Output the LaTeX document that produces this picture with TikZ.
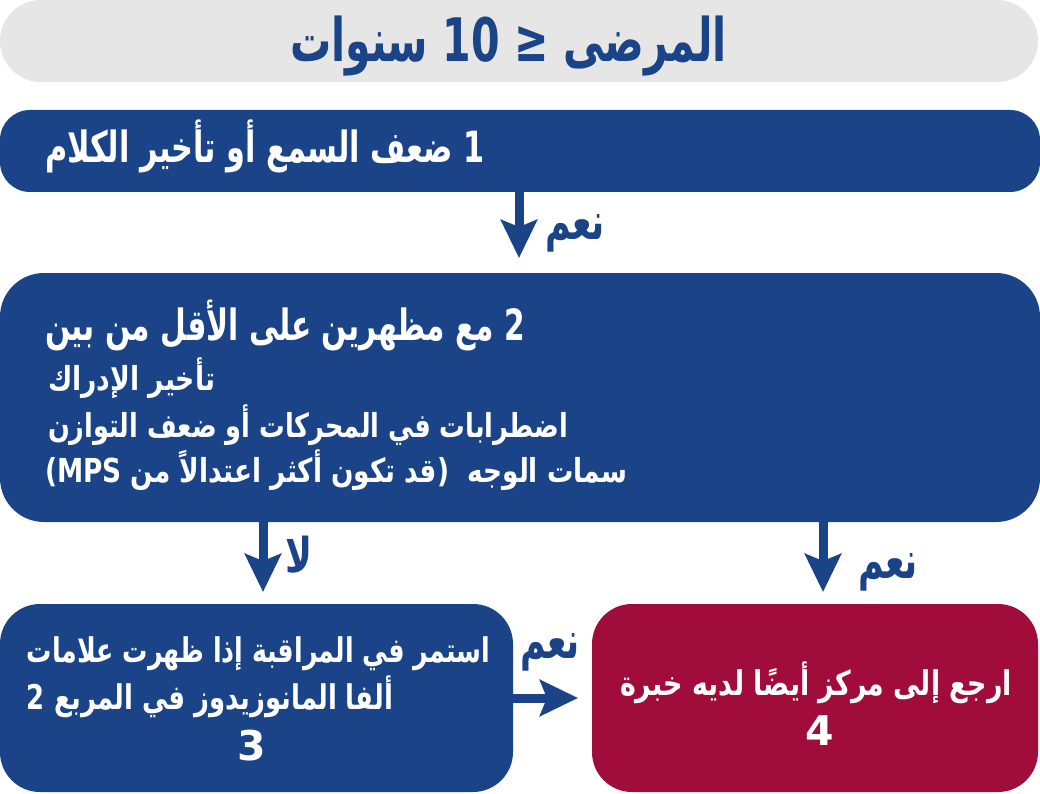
\documentclass[tikz,border=0pt]{standalone}
\usepackage{fontspec}
\usepackage{graphicx}
\usetikzlibrary{arrows.meta}
\TeXXeTstate=1
\newfontfamily\arfont[Script=Arabic]{DejaVu Sans}
\definecolor{navy}{HTML}{1B4488}
\definecolor{greybox}{HTML}{E6E6E6}
\definecolor{crimson}{HTML}{A00D3A}
% #1 font size (pt), #2 target width, #3 text (with its own \beginR ... \endR)
\newcommand{\artext}[3]{\resizebox{#2}{\height}{\fontsize{#1}{#1}\arfont\bfseries #3}}
\newcommand{\digit}[2]{{\fontsize{#1}{#1}\arfont\bfseries #2}}
\tikzset{
  box/.style={draw=none, inner sep=0pt, outer sep=0pt},
  txt/.style={inner sep=0pt, outer sep=0pt, anchor=base west},
  wtxt/.style={txt, text=white},
  btxt/.style={txt, text=navy},
  arr/.style={draw=navy, line width=9pt,
    -{Stealth[length=38pt,width=36pt,inset=7pt]}},
}
\begin{document}
\begin{tikzpicture}[x=1pt,y=-1pt]
\useasboundingbox (0,0) rectangle (1040,794);
% boxes
\node[box, fill=greybox, rounded corners=41pt, minimum width=1038pt, minimum height=82pt] (top) at (519,41) {};
\node[box, fill=navy, rounded corners=30pt, minimum width=1040pt, minimum height=82pt] (b1) at (520,151) {};
\node[box, fill=navy, rounded corners=44pt, minimum width=1040pt, minimum height=249pt] (b2) at (520,397.5) {};
\node[box, fill=navy, rounded corners=40pt, minimum width=513pt, minimum height=188pt] (b3) at (256.5,698) {};
\node[box, fill=crimson, rounded corners=40pt, minimum width=446pt, minimum height=188pt] (b4) at (815,698) {};
% texts
\node[btxt] (tt) at (290,62) {\artext{60}{437pt}{\beginR المرضى ≤ 10 سنوات\endR}};
\node[wtxt] (t1) at (45,163) {\artext{43}{440pt}{\beginR 1 ضعف السمع أو تأخير الكلام\endR}};
\node[wtxt] (t2a) at (45,340) {\artext{43}{480pt}{\beginR 2 مع مظهرين على الأقل من بين\endR}};
\node[wtxt] (t2b) at (48,390) {\artext{33}{167pt}{\beginR تأخير الإدراك\endR}};
\node[wtxt] (t2c) at (48,437) {\artext{33}{520pt}{\beginR اضطرابات في المحركات أو ضعف التوازن\endR}};
\node[wtxt] (t2d) at (45,482) {\artext{33}{582pt}{\beginR سمات الوجه\ \ (قد تكون أكثر اعتدالاً من \beginL MPS\endL)\endR}};
\node[wtxt] (t3a) at (27,662) {\artext{34}{463pt}{\beginR استمر في المراقبة إذا ظهرت علامات\endR}};
\node[wtxt] (t3b) at (27,709) {\artext{34}{366pt}{\beginR ألفا المانوزيدوز في المربع 2\endR}};
\node[text=white, inner sep=0pt, anchor=base] (t3c) at (252,760) {\digit{41}{3}};
\node[wtxt] (t4a) at (620,695) {\artext{34}{392pt}{\beginR ارجع إلى مركز أيضًا لديه خبرة\endR}};
\node[text=white, inner sep=0pt, anchor=base] (t4b) at (820,745) {\digit{41}{4}};
% connectors
\coordinate (c1) at (519,192);
\draw[arr, shorten >=15pt] (c1) -- (c1 |- b2.north);
\coordinate (c3) at (263,522);
\draw[arr, shorten >=12pt] (c3) -- (c3 |- b3.north);
\coordinate (c4) at (823,522);
\draw[arr, shorten >=12pt] (c4) -- (c4 |- b4.north);
\draw[arr, shorten >=14pt] (b3.east) -- (b4.west);
% labels
\node[btxt] (l1) at (545,240) {\artext{52}{60pt}{\beginR نعم\endR}};
\node[btxt] (l2) at (285,572) {\artext{48}{27pt}{\beginR لا\endR}};
\node[btxt] (l3) at (858,578) {\artext{52}{60pt}{\beginR نعم\endR}};
\node[btxt] (l4) at (520,658) {\artext{52}{60pt}{\beginR نعم\endR}};
\end{tikzpicture}
\end{document}
